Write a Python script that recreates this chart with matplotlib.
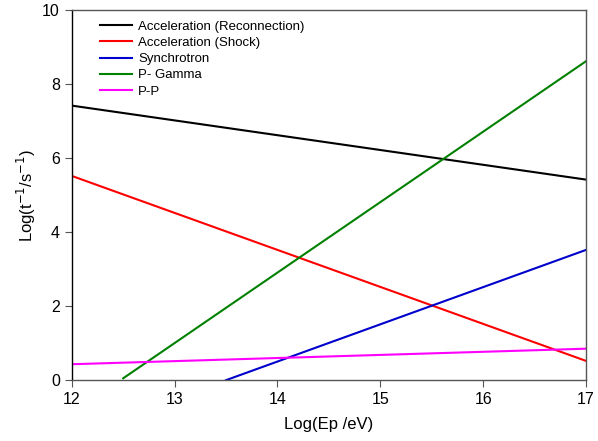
import matplotlib.pyplot as plt

plt.rcParams['font.family'] = ['Liberation Sans', 'DejaVu Sans']

# values
x_rec = [12, 17]
y_rec = [7.42, 5.42]
x_shock = [12, 17]
y_shock = [5.52, 0.52]
x_sync = [13.5, 17]
y_sync = [0.0, 3.52]
x_pg = [12.5, 17]
y_pg = [0.05, 8.62]
x_pp = [12, 17]
y_pp = [0.43, 0.85]

fig = plt.figure(figsize=(5.98, 4.41), dpi=100)
ax = fig.add_axes([0.120, 0.138, 0.860, 0.839])

ax.plot(x_rec, y_rec, color='black', lw=1.5, label='Acceleration (Reconnection)')
ax.plot(x_shock, y_shock, color='red', lw=1.5, label='Acceleration (Shock)')
ax.plot(x_sync, y_sync, color='#0000cc', lw=1.5, label='Synchrotron')
ax.plot(x_pg, y_pg, color='#008000', lw=1.5, label='P- Gamma')
ax.plot(x_pp, y_pp, color='magenta', lw=1.5, label='P-P')

ax.set_xlim(12, 17)
ax.set_ylim(0, 10)
ax.set_xticks([12, 13, 14, 15, 16, 17])
ax.set_yticks([0, 2, 4, 6, 8, 10])
ax.tick_params(direction='out', length=5, labelsize=11.5, color='#555555')
for s in ax.spines.values():
    s.set_color('#555555')
    s.set_linewidth(1.0)
ax.spines['left'].set_color('black')

ax.set_xlabel('Log(Ep /eV)', fontsize=12, labelpad=7)
ax.set_ylabel('Log(t$^{-1}$/s$^{-1}$)', fontsize=12, labelpad=3)

ax.legend(loc='upper left', frameon=False, fontsize=9.5, handlelength=2.4,
          handletextpad=0.5, labelspacing=0.3, borderaxespad=0, borderpad=0,
          bbox_to_anchor=(0.055, 0.972))

fig.savefig('out.png', dpi=100)
